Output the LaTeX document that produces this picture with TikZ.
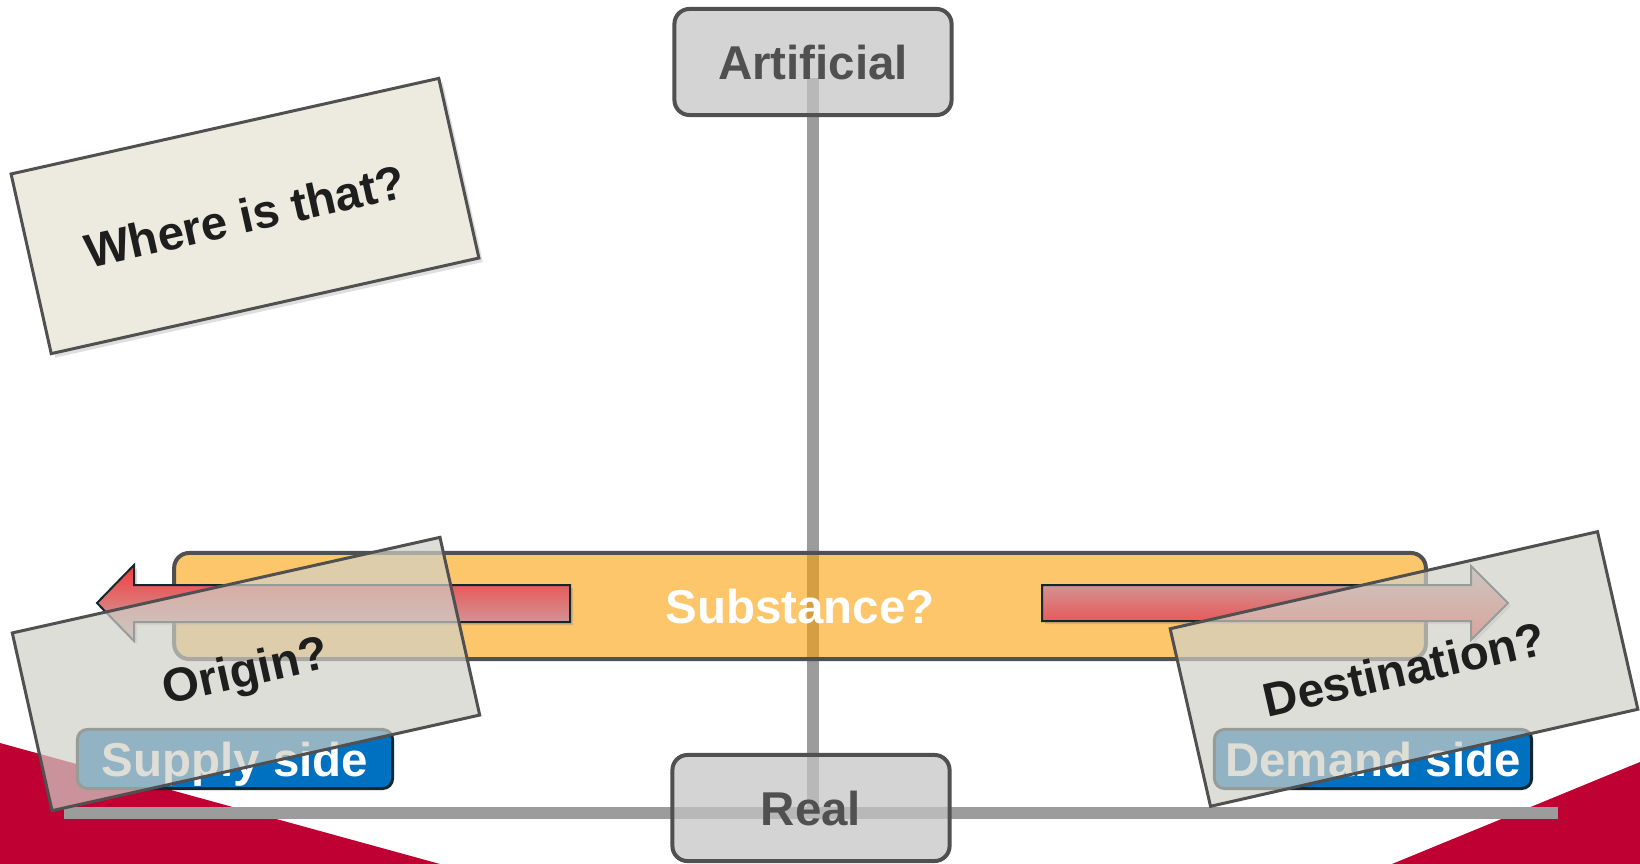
\documentclass[tikz,border=0pt]{standalone}
\usepackage{fontspec}
\setmainfont{Liberation Sans}
\usepackage{tikz}
\usetikzlibrary{shadows}

\definecolor{axisgray}{HTML}{9C9C9C}
\definecolor{boxgray}{HTML}{C3C3C3}
\definecolor{edgegray}{HTML}{505050}
\definecolor{substorange}{HTML}{FCA008}
\definecolor{sideblue}{HTML}{0070C0}
\definecolor{sideedge}{HTML}{10282E}
\definecolor{notebeige}{HTML}{EDEBE0}
\definecolor{veilgray}{HTML}{D0D0C7}
\definecolor{bandred}{HTML}{BE0032}
\definecolor{arrowred}{HTML}{F23C3C}
\definecolor{arrowpale}{HTML}{C8B0B0}
\definecolor{inkblack}{HTML}{1E1E1E}

\tikzset{
  capcenter/.style={text height=9.7pt, text depth=0pt},
  pole/.style={rectangle, rounded corners=0.15cm, draw=edgegray, line width=0.04cm,
    fill=boxgray, fill opacity=0.72, text opacity=1, text=edgegray, capcenter,
    minimum width=2.77cm, minimum height=1.06cm},
  side/.style={rectangle, rounded corners=0.1cm, draw=sideedge, line width=0.03cm,
    fill=sideblue, text=white, capcenter, minimum width=3.15cm, minimum height=0.59cm, inner sep=0pt},
  flow/.style={draw=sideedge, line width=0.02cm,
    drop shadow={shadow xshift=0.03cm, shadow yshift=-0.03cm, opacity=0.3}},
  tilted/.style={rectangle, draw=edgegray, line width=0.03cm, text=inkblack,
    minimum width=4.38cm, minimum height=1.82cm, rotate=12.6},
}

\begin{document}
\begin{tikzpicture}[x=0.01cm, y=-0.01cm, font=\fontsize{13.5}{16}\selectfont\bfseries]
    \useasboundingbox (0,0) rectangle (1640,864);
    % background bands
    \fill[bandred] (0,743) -- (440,864) -- (0,864) -- cycle;
    \fill[bandred] (1640,762) -- (1392,864) -- (1640,864) -- cycle;
    % axes
    \coordinate (top) at (813,78);
    \coordinate (bottom) at (813,813);
    \coordinate (left) at (64,813);
    \coordinate (right) at (1558,813);
    \begin{scope}[every path/.style={draw=axisgray, line width=0.12cm}]
    \path (top) -- (bottom);
    \path (left) -- (right);
    \end{scope}
    % poles and substance
    \node[pole] (artificial) at (813,62) {Artificial};
    \node[pole] (real) at (811,808) {Real};
    \node[rectangle, rounded corners=0.15cm, draw=edgegray, line width=0.04cm,
      fill=substorange, fill opacity=0.6, text opacity=1, text=white, capcenter,
      minimum width=12.51cm, minimum height=1.06cm] (substance) at (800,606) {Substance?};
    % flow arrows
    \draw[flow, top color=arrowred, bottom color=arrowpale]
      (570,585) -- (134,585) -- (134,565) -- (97,603) -- (134,641) -- (134,622) -- (570,622) -- cycle;
    \draw[flow, top color=arrowpale, bottom color=arrowred]
      (1042,585) -- (1471,585) -- (1471,566) -- (1508,603) -- (1471,640) -- (1471,621) -- (1042,621) -- cycle;
    % sides
    \node[side] (supply) at (235,759) {Supply side};
    \node[side, minimum width=3.17cm] (demand) at (1373,759) {Demand side};
    % question cards
    \node[tilted, fill=notebeige, minimum height=1.84cm,
      drop shadow={shadow xshift=0.04cm, shadow yshift=-0.04cm, opacity=0.25}] (where) at (245,216) {Where is that?};
    \begin{scope}[every node/.style={tilted, fill=veilgray, fill opacity=0.7, text opacity=1}]
    \node (origin) at (246,674) {Origin?};
    \node[rotate=0.2] (destination) at (1404,669) {Destination?};
    \end{scope}
\end{tikzpicture}
\end{document}
